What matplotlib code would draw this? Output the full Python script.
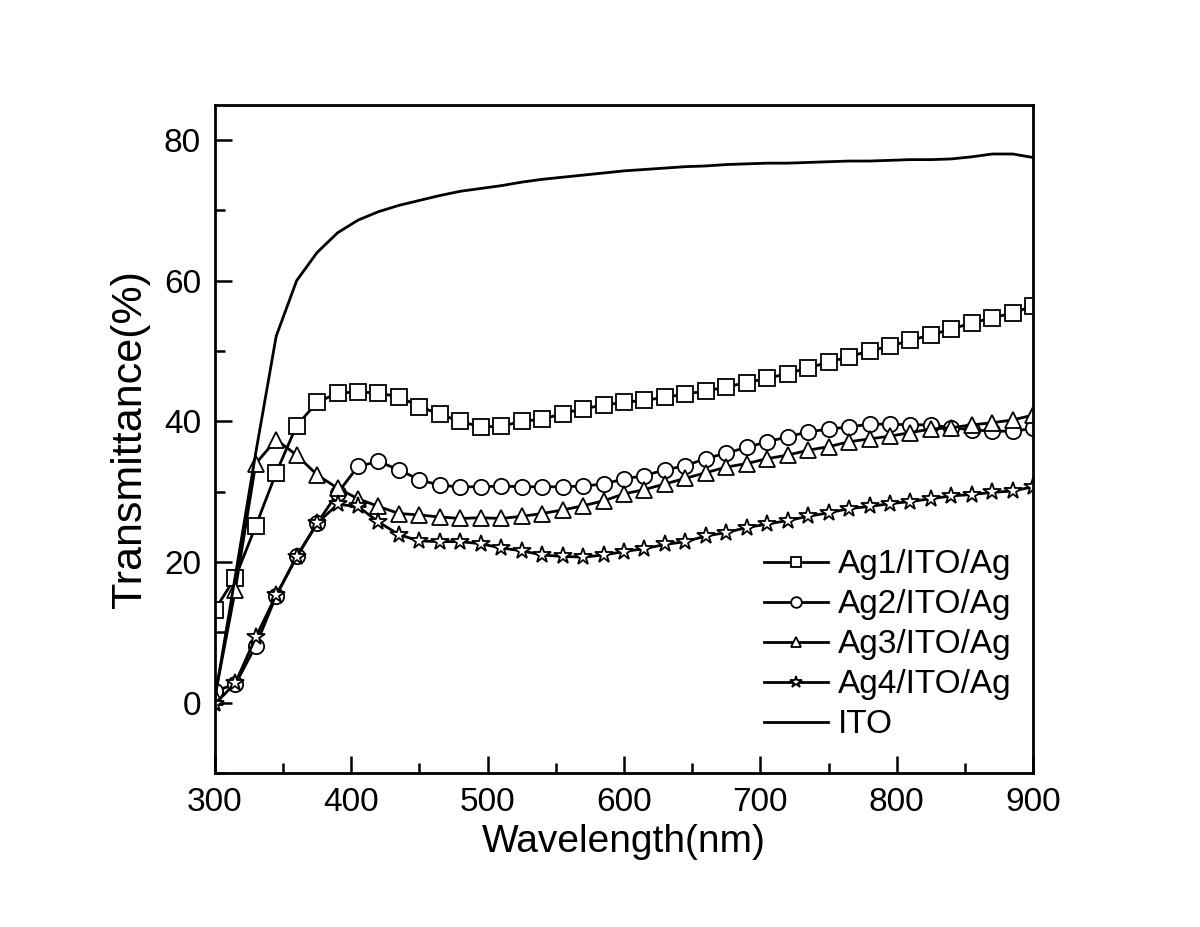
import numpy as np
import matplotlib
matplotlib.use("Agg")
import matplotlib.pyplot as plt
from matplotlib.ticker import MultipleLocator

# 波长 (nm)，每 15 nm 一个点
wavelength = list(range(300, 901, 15))

ag1 = [13.2, 17.8, 25.1, 32.7, 39.4, 42.7, 44.0, 44.2, 44.0, 43.5, 42.1, 41.0, 40.0, 39.2,
       39.3, 40.0, 40.3, 41.1, 41.8, 42.3, 42.7, 43.0, 43.4, 43.9, 44.3, 44.9, 45.5, 46.1,
       46.8, 47.6, 48.4, 49.2, 50.0, 50.7, 51.5, 52.3, 53.1, 54.0, 54.7, 55.4, 56.4]
ag2 = [1.7, 2.6, 8.1, 15.2, 20.8, 25.5, 29.8, 33.6, 34.3, 33.1, 31.7, 30.9, 30.7, 30.7,
       30.8, 30.7, 30.7, 30.7, 30.8, 31.1, 31.8, 32.3, 33.1, 33.7, 34.7, 35.5, 36.3, 37.1,
       37.8, 38.5, 38.9, 39.2, 39.6, 39.6, 39.5, 39.5, 39.1, 38.8, 38.6, 38.6, 39.0]
ag3 = [0.8, 16.0, 34.0, 37.4, 35.2, 32.4, 30.5, 29.0, 27.9, 26.9, 26.7, 26.4, 26.2, 26.3,
       26.2, 26.5, 26.9, 27.4, 28.0, 28.7, 29.7, 30.3, 31.1, 31.9, 32.7, 33.5, 34.0, 34.7,
       35.2, 35.9, 36.4, 37.1, 37.5, 37.9, 38.4, 38.9, 39.1, 39.5, 39.8, 40.2, 40.9]
ag4 = [-0.2, 2.8, 9.3, 15.3, 20.7, 25.5, 28.2, 27.9, 25.7, 23.9, 23.0, 22.9, 22.9, 22.6,
       22.0, 21.6, 21.0, 20.8, 20.7, 21.0, 21.5, 21.9, 22.5, 22.9, 23.7, 24.2, 24.9, 25.4,
       25.9, 26.5, 27.0, 27.6, 27.9, 28.3, 28.6, 29.0, 29.4, 29.6, 29.9, 30.1, 30.7]
ito = [0.5, 18.0, 35.5, 52.1, 60.0, 64.0, 66.8, 68.6, 69.8, 70.7, 71.4, 72.1, 72.7, 73.1,
       73.5, 74.0, 74.4, 74.7, 75.0, 75.3, 75.6, 75.8, 76.0, 76.2, 76.3, 76.5, 76.6, 76.7,
       76.7, 76.8, 76.9, 77.0, 77.0, 77.1, 77.2, 77.2, 77.3, 77.6, 78.0, 78.0, 77.5]

plt.rcParams['font.family'] = ['Liberation Sans', 'DejaVu Sans']

fig = plt.figure(figsize=(12, 9.27), dpi=100)
ax = fig.add_axes([0.179, 0.166, 0.682, 0.721])

style = dict(color='black', linewidth=2.0, markersize=11, markerfacecolor='white',
             markeredgecolor='black', markeredgewidth=1.3)
ax.plot(wavelength, ag1, marker='s', label='Ag1/ITO/Ag', **style)
ax.plot(wavelength, ag2, marker='o', label='Ag2/ITO/Ag', **style)
ax.plot(wavelength, ag3, marker='^', label='Ag3/ITO/Ag', **style)
ax.plot(wavelength, ag4, marker='*', label='Ag4/ITO/Ag', **dict(style, markersize=13))
ax.plot(wavelength, ito, color='black', linewidth=2.0, label='ITO')

ax.set_xlim(300, 900)
ax.set_ylim(-10, 85)
ax.xaxis.set_major_locator(MultipleLocator(100))
ax.xaxis.set_minor_locator(MultipleLocator(50))
ax.yaxis.set_major_locator(MultipleLocator(20))
ax.yaxis.set_minor_locator(MultipleLocator(10))
ax.tick_params(which='both', direction='in', top=False, right=False, labelsize=24, width=1.8)
ax.tick_params(which='major', length=12, pad=10)
ax.tick_params(which='minor', length=7)
for sp in ax.spines.values():
    sp.set_linewidth(2)

ax.set_xlabel('Wavelength(nm)', fontsize=28, labelpad=4)
ax.set_ylabel('Transmittance(%)', fontsize=31, labelpad=10)

ax.legend(loc='lower right', bbox_to_anchor=(1.022, -0.011), frameon=False, fontsize=24,
          markerscale=0.7, handlelength=1.9, handletextpad=0.3, labelspacing=0.27,
          borderaxespad=0.8)

fig.savefig('out.png', dpi=100)
